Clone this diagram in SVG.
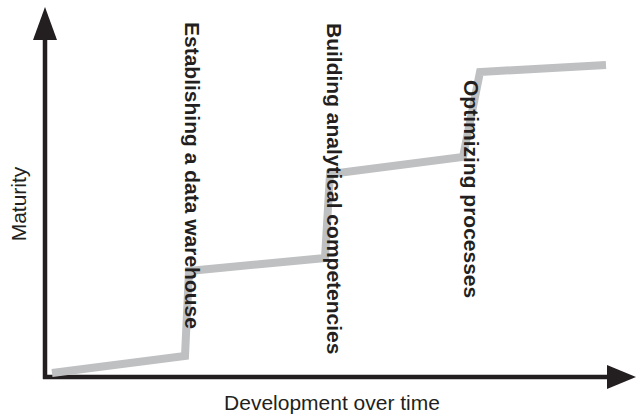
<svg xmlns="http://www.w3.org/2000/svg" width="636" height="417" viewBox="0 0 636 417">
<style>
.axis{stroke:#231f20;stroke-width:4.5;fill:none}
.head{fill:#231f20}
.curve{stroke:#bfc0c2;stroke-width:8;fill:none;stroke-linejoin:miter;stroke-linecap:butt}
.lbl{font-family:"Liberation Sans",Arial,sans-serif;font-size:21px;font-weight:bold;fill:#231f20}
.ax{font-family:"Liberation Sans",Arial,sans-serif;font-size:21px;fill:#231f20}
</style>
<g id="connectors">
<path class="axis" d="M45,379 L45,36"/>
<polygon class="head" points="45,7 33,40 57,40"/>
<path class="axis" d="M43,377 L610,377"/>
<polygon class="head" points="636,377 607,365 607,389"/>
<path class="curve" d="M52,373 L185,356 L189,271 L325,258 L330,174 L463,157 L480,72 L606,65"/>
</g>
<g id="label-y"><text class="ax" transform="translate(26,204) rotate(-90)" text-anchor="middle">Maturity</text></g>
<g id="label-x"><text class="ax" x="332" y="410" text-anchor="middle">Development over time</text></g>
<g id="step1"><text class="lbl" transform="translate(185,22) rotate(90)">Establishing a data warehouse</text></g>
<g id="step2"><text class="lbl" transform="translate(327,23) rotate(90)">Building analytical competencies</text></g>
<g id="step3"><text class="lbl" transform="translate(464,80) rotate(90)">Optimizing processes</text></g>
</svg>
